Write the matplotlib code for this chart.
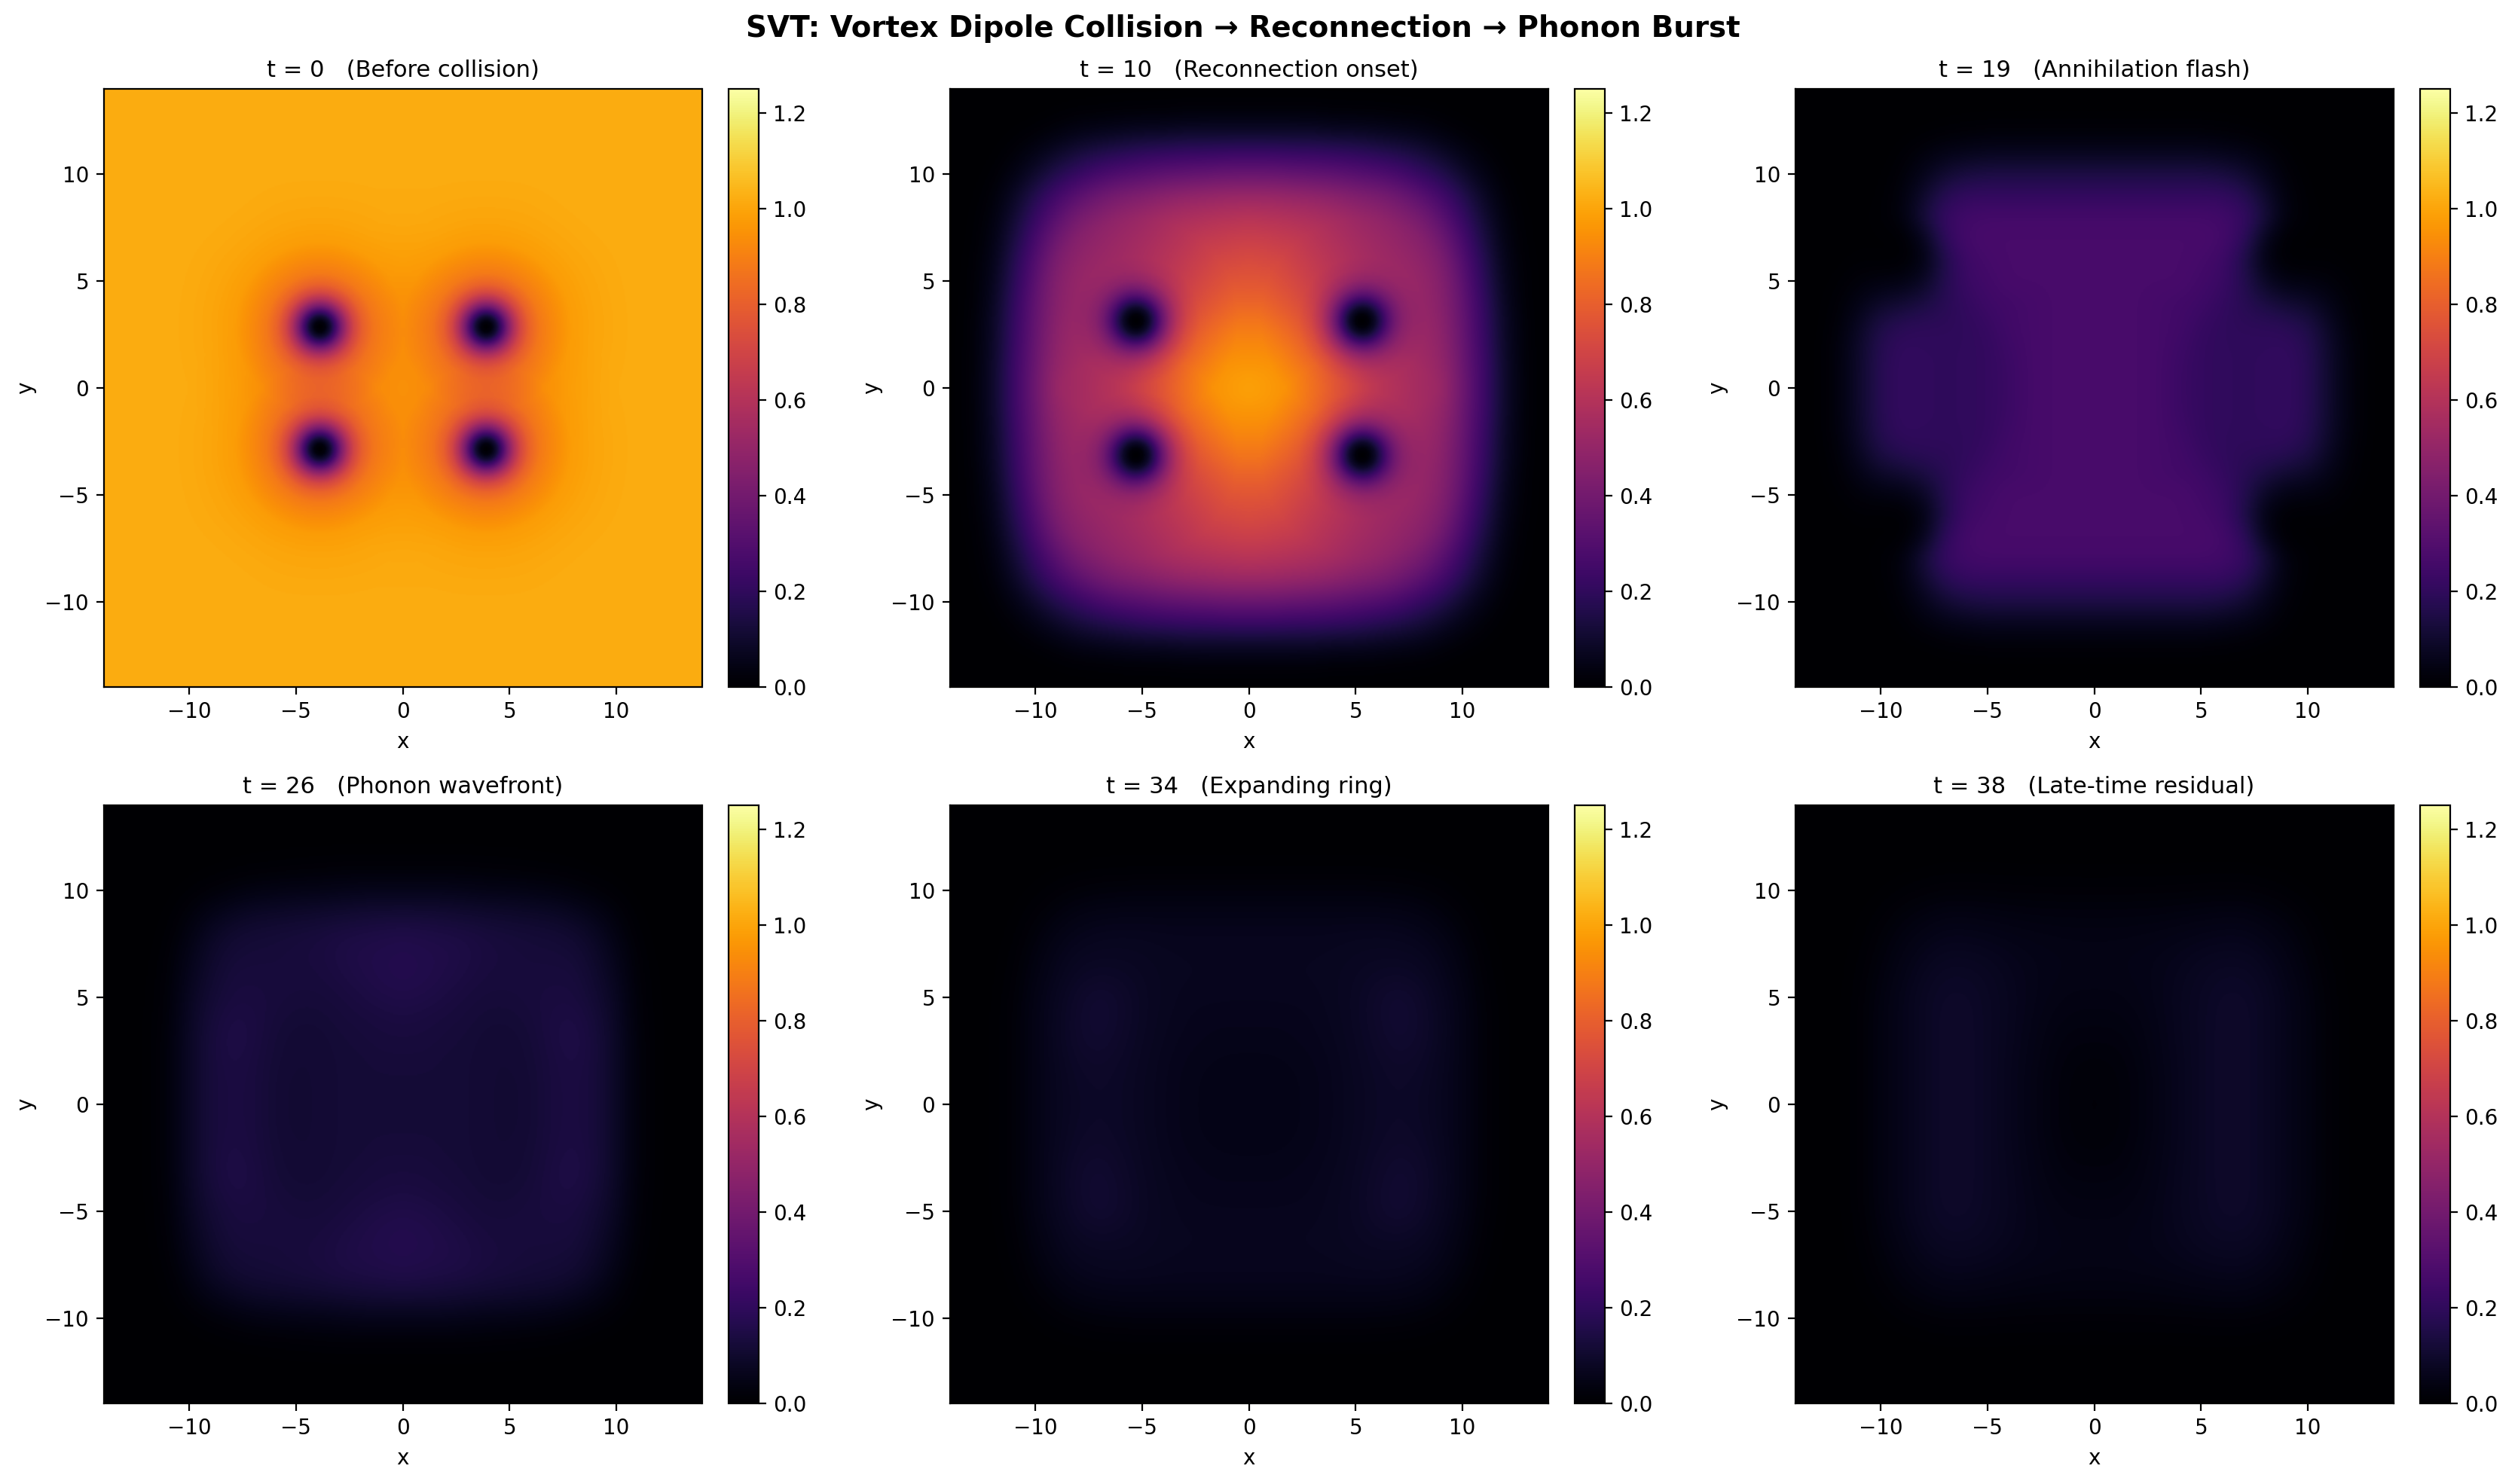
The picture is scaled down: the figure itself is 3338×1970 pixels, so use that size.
import numpy as np
import matplotlib
matplotlib.use("Agg")
import matplotlib.pyplot as plt

W, H = 3338, 1970

titles = ["t = 0   (Before collision)", "t = 10   (Reconnection onset)",
          "t = 19   (Annihilation flash)", "t = 26   (Phonon wavefront)",
          "t = 34   (Expanding ring)", "t = 38   (Late-time residual)"]

# density on the upper right quadrant, rows are y and columns are x
nodes_coarse = [0, 3, 6, 9, 12, 14]
nodes_fine = list(range(15))

density_t0 = [
    [1.015, 1.015, 1.015, 1.015, 1.02, 1.02],
    [1.015, 1.015, 1.015, 1.015, 1.02, 1.02],
    [1.015, 1.015, 1.015, 1.015, 1.02, 1.02],
    [1.015, 1.015, 1.015, 1.02, 1.02, 1.02],
    [1.02, 1.02, 1.02, 1.02, 1.02, 1.02],
    [1.02, 1.02, 1.02, 1.02, 1.02, 1.02],
]

density_t10 = [
    [1.05, 1.04, 1.03, 1.02, .98, .90, .80, .72, .63, .56, .40, .24, .09, .015, 0],
    [1.02, 1.02, 1.01, .99, .95, .88, .79, .71, .63, .55, .39, .24, .09, .015, 0],
    [.98, .98, .97, .95, .91, .85, .78, .70, .62, .54, .38, .23, .08, .015, 0],
    [.93, .93, .92, .90, .87, .82, .76, .69, .61, .53, .37, .22, .08, .015, 0],
    [.86, .86, .85, .84, .81, .77, .72, .66, .59, .51, .36, .21, .07, .01, 0],
    [.80, .80, .79, .77, .75, .72, .68, .63, .57, .49, .34, .19, .06, .01, 0],
    [.75, .74, .73, .71, .69, .66, .62, .58, .53, .45, .31, .17, .05, .008, 0],
    [.69, .68, .67, .65, .63, .60, .57, .53, .48, .40, .27, .14, .04, .005, 0],
    [.62, .61, .60, .59, .57, .54, .51, .47, .42, .33, .22, .11, .03, .004, 0],
    [.52, .52, .51, .50, .48, .45, .43, .39, .33, .26, .17, .08, .02, .002, 0],
    [.37, .37, .36, .35, .34, .32, .30, .27, .22, .17, .10, .045, .01, 0, 0],
    [.23, .23, .22, .22, .21, .20, .18, .16, .13, .09, .05, .02, .003, 0, 0],
    [.09, .09, .09, .09, .08, .08, .07, .06, .05, .03, .015, .005, 0, 0, 0],
    [.02, .02, .02, .02, .015, .015, .015, .01, .01, .005, 0, 0, 0, 0, 0],
    [.002, .002, .002, .002, .002, .002, .001, .001, 0, 0, 0, 0, 0, 0, 0],
]

density_t19 = [
    [.27, .27, .27, .26, .23, .21, .20, .20, .20, .21, .18, .10, .03, .003, 0],
    [.27, .27, .27, .26, .23, .21, .20, .20, .20, .21, .18, .10, .03, .003, 0],
    [.27, .27, .27, .26, .24, .21, .20, .20, .20, .205, .175, .095, .03, .003, 0],
    [.27, .27, .27, .26, .25, .22, .20, .19, .19, .18, .15, .08, .02, .002, 0],
    [.27, .27, .27, .26, .25, .24, .21, .18, .14, .11, .09, .05, .015, .002, 0],
    [.27, .27, .27, .27, .27, .25, .23, .17, .08, .04, .035, .025, .008, 0, 0],
    [.27, .27, .27, .27, .27, .26, .24, .16, .04, .005, .005, .008, .002, 0, 0],
    [.27, .27, .27, .27, .27, .27, .26, .20, .06, .005, .003, .003, 0, 0, 0],
    [.26, .26, .26, .26, .26, .26, .25, .22, .13, .03, .01, .002, 0, 0, 0],
    [.21, .21, .21, .21, .21, .21, .21, .18, .10, .03, .006, 0, 0, 0, 0],
    [.15, .15, .15, .15, .15, .15, .14, .11, .06, .02, .003, 0, 0, 0, 0],
    [.07, .07, .07, .07, .07, .07, .06, .05, .03, .01, 0, 0, 0, 0, 0],
    [.02, .02, .02, .02, .02, .02, .016, .012, .006, .002, 0, 0, 0, 0, 0],
    [.002, .002, .002, .002, .002, .002, .002, .001, 0, 0, 0, 0, 0, 0, 0],
    [0, 0, 0, 0, 0, 0, 0, 0, 0, 0, 0, 0, 0, 0, 0],
]

density_t26 = [
    [.12, .12, .12, .118, .113, .11, .115, .135, .14, .13, .085, .025, .005, 0, 0],
    [.12, .12, .12, .118, .113, .11, .115, .135, .14, .13, .085, .025, .005, 0, 0],
    [.125, .125, .12, .118, .113, .112, .118, .135, .145, .13, .085, .025, .005, 0, 0],
    [.13, .13, .125, .12, .113, .113, .12, .14, .15, .13, .085, .025, .005, 0, 0],
    [.14, .135, .13, .125, .118, .118, .125, .14, .145, .125, .08, .022, .005, 0, 0],
    [.155, .15, .14, .13, .125, .125, .13, .135, .135, .115, .075, .02, .004, 0, 0],
    [.165, .16, .15, .14, .13, .13, .13, .13, .13, .105, .065, .018, .003, 0, 0],
    [.165, .16, .155, .145, .135, .13, .125, .125, .12, .095, .055, .015, .002, 0, 0],
    [.155, .15, .145, .14, .13, .125, .12, .115, .105, .08, .04, .01, .001, 0, 0],
    [.115, .115, .11, .105, .10, .095, .09, .085, .07, .05, .025, .006, 0, 0, 0],
    [.06, .06, .06, .055, .05, .05, .045, .04, .03, .02, .01, .002, 0, 0, 0],
    [.02, .02, .02, .02, .018, .016, .014, .012, .009, .005, .002, 0, 0, 0, 0],
    [.005, .005, .005, .005, .004, .004, .003, .002, .001, 0, 0, 0, 0, 0, 0],
    [0, 0, 0, 0, 0, 0, 0, 0, 0, 0, 0, 0, 0, 0, 0],
    [0, 0, 0, 0, 0, 0, 0, 0, 0, 0, 0, 0, 0, 0, 0],
]

density_t34 = [
    [.05, .05, .052, .056, .064, .074, .084, .088, .083, .07, .05, .02, .005, 0, 0],
    [.05, .05, .052, .056, .064, .074, .084, .09, .085, .07, .05, .02, .005, 0, 0],
    [.052, .052, .054, .058, .065, .076, .087, .095, .09, .072, .05, .02, .005, 0, 0],
    [.056, .056, .058, .061, .068, .078, .092, .105, .097, .075, .05, .02, .005, 0, 0],
    [.06, .06, .06, .064, .07, .08, .096, .11, .098, .075, .05, .02, .005, 0, 0],
    [.064, .064, .065, .066, .072, .08, .096, .108, .095, .072, .048, .018, .004, 0, 0],
    [.068, .068, .068, .069, .072, .078, .086, .09, .083, .065, .042, .015, .003, 0, 0],
    [.068, .068, .068, .068, .07, .074, .076, .076, .072, .058, .035, .012, .002, 0, 0],
    [.064, .064, .064, .064, .065, .067, .068, .066, .06, .046, .026, .008, .001, 0, 0],
    [.05, .05, .05, .05, .05, .05, .05, .048, .042, .03, .016, .005, 0, 0, 0],
    [.03, .03, .03, .03, .03, .03, .028, .026, .022, .015, .007, .002, 0, 0, 0],
    [.01, .01, .01, .01, .01, .01, .01, .009, .007, .005, .002, 0, 0, 0, 0],
    [.002, .002, .002, .002, .002, .002, .002, .002, .001, 0, 0, 0, 0, 0, 0],
    [0, 0, 0, 0, 0, 0, 0, 0, 0, 0, 0, 0, 0, 0, 0],
    [0, 0, 0, 0, 0, 0, 0, 0, 0, 0, 0, 0, 0, 0, 0],
]

density_t38 = [
    [.018, .022, .032, .048, .065, .08, .093, .093, .078, .058, .038, .015, .003, 0, 0],
    [.019, .022, .032, .048, .065, .08, .093, .093, .078, .058, .038, .015, .003, 0, 0],
    [.022, .025, .034, .05, .065, .08, .093, .093, .078, .058, .038, .015, .003, 0, 0],
    [.03, .03, .038, .052, .067, .08, .093, .093, .078, .058, .038, .015, .003, 0, 0],
    [.036, .037, .042, .054, .068, .08, .093, .093, .078, .058, .038, .015, .003, 0, 0],
    [.042, .042, .047, .056, .068, .08, .09, .09, .078, .058, .036, .014, .003, 0, 0],
    [.047, .047, .05, .056, .066, .076, .084, .084, .072, .052, .032, .012, .002, 0, 0],
    [.048, .048, .05, .054, .06, .068, .072, .072, .062, .045, .026, .009, .002, 0, 0],
    [.042, .042, .044, .046, .05, .054, .058, .058, .048, .036, .02, .006, .001, 0, 0],
    [.032, .032, .032, .033, .035, .038, .04, .04, .033, .024, .012, .004, 0, 0, 0],
    [.016, .016, .017, .017, .018, .019, .02, .02, .016, .011, .005, .001, 0, 0, 0],
    [.006, .006, .006, .006, .006, .007, .007, .007, .005, .003, .001, 0, 0, 0, 0],
    [.001, .001, .001, .001, .001, .001, .001, .001, 0, 0, 0, 0, 0, 0, 0],
    [0, 0, 0, 0, 0, 0, 0, 0, 0, 0, 0, 0, 0, 0, 0],
    [0, 0, 0, 0, 0, 0, 0, 0, 0, 0, 0, 0, 0, 0, 0],
]

# vortex cores of the upper right quadrant, and how far a core pulls density down
cores_t0 = [(3.9, 2.87)]
cores_t10 = [(5.3, 3.15)]
core_r = [0, .25, .5, .75, 1.0, 1.3, 1.6, 2.0, 2.5, 3.0, 4.0, 5.0, 6.0, 7.0]
core_factor = [0, .03, .12, .26, .42, .58, .70, .80, .87, .905, .965, .985, .995, 1.0]

panels = [(density_t0, nodes_coarse, cores_t0, 1.0), (density_t10, nodes_fine, cores_t10, 1.2),
          (density_t19, nodes_fine, [], 1.0), (density_t26, nodes_fine, [], 1.0),
          (density_t34, nodes_fine, [], 1.0), (density_t38, nodes_fine, [], 1.0)]

axis = np.linspace(-14, 14, 561)
xx, yy = np.meshgrid(axis, axis)


def smooth(field, sigma=8):
    # separable gaussian, sigma in samples of the fine grid
    half = 3 * sigma
    kernel = np.exp(-0.5 * (np.arange(-half, half + 1) / sigma) ** 2)
    kernel /= kernel.sum()
    for ax_i in (0, 1):
        field = np.apply_along_axis(
            lambda v: np.convolve(np.pad(v, half, mode="edge"), kernel, mode="valid"),
            ax_i, field)
    return field


def build_field(quadrant, nodes, cores, core_scale):
    q = np.array(quadrant, dtype=float)
    nodes = np.array(nodes, dtype=float)
    # mirror to all four quadrants
    full = np.vstack([q[:0:-1], q])
    full = np.hstack([full[:, :0:-1], full])
    full_nodes = np.concatenate([-nodes[:0:-1], nodes])
    field = np.apply_along_axis(lambda v: np.interp(axis, full_nodes, v), 1, full)
    field = np.apply_along_axis(lambda v: np.interp(axis, full_nodes, v), 0, field)
    field = smooth(field)
    for cx, cy in cores:
        for sx in (-1, 1):
            for sy in (-1, 1):
                r = np.hypot(xx - sx * cx, yy - sy * cy) / core_scale
                field = field * np.interp(r, core_r, core_factor)
    return field


fig = plt.figure(figsize=(W / 200, H / 200), dpi=200)

lefts = [137, 1260, 2382]
tops = [118, 1069]
ax_w, ax_h = 795, 794
cb_gap, cb_w = 35, 40

for i, (quadrant, nodes, cores, core_scale) in enumerate(panels):
    left = lefts[i % 3]
    top = tops[i // 3]
    ax = fig.add_axes([left / W, 1 - (top + ax_h) / H, ax_w / W, ax_h / H])
    im = ax.imshow(build_field(quadrant, nodes, cores, core_scale), origin="lower", cmap="inferno",
                   vmin=0, vmax=1.25, extent=[-14, 14, -14, 14], interpolation="bilinear")
    ax.set_title(titles[i], fontsize=11, pad=5.6)
    ax.set_xlabel("x")
    ax.set_ylabel("y")
    ax.set_xticks([-10, -5, 0, 5, 10])
    ax.set_yticks([-10, -5, 0, 5, 10])
    cax = fig.add_axes([(left + ax_w + cb_gap) / W, 1 - (top + ax_h) / H, cb_w / W, ax_h / H])
    fig.colorbar(im, cax=cax, ticks=[0, .2, .4, .6, .8, 1.0, 1.2])

fig.text(1650 / W, 1 - 38 / H, "SVT: Vortex Dipole Collision → Reconnection → Phonon Burst",
         ha="center", va="center", fontsize=14, fontweight="bold")

fig.savefig("out.png", dpi=200)
